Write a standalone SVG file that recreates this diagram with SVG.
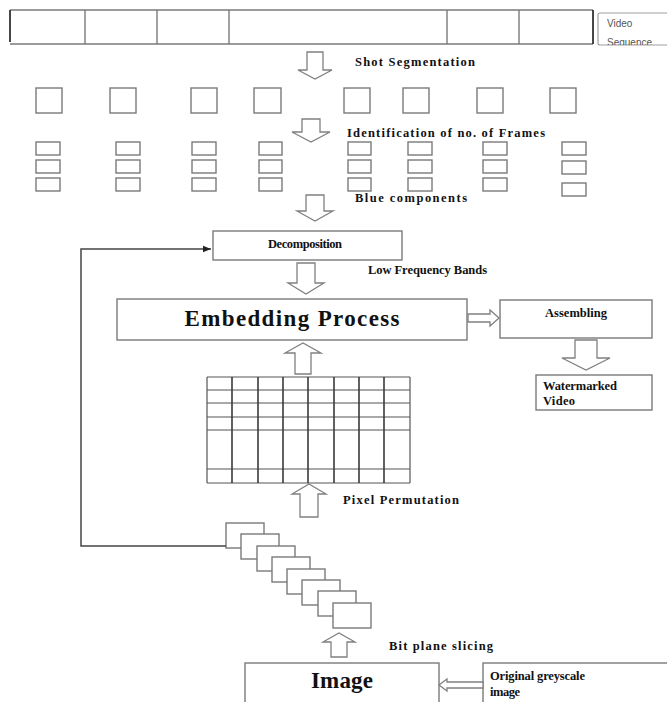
<svg xmlns="http://www.w3.org/2000/svg" width="667" height="702" viewBox="0 0 667 702">
<defs>
<style>
.b{fill:#fff;stroke:#7a7a7a;stroke-width:1.4}
.s{fill:none;stroke:#7a7a7a;stroke-width:1.4}
.a{fill:#fff;stroke:#808080;stroke-width:1.3}
.t{font-family:"Liberation Serif",serif;font-weight:bold;font-size:12.5px;fill:#111}
.big{font-family:"Liberation Serif",serif;font-weight:bold;font-size:23px;fill:#111}
.g{fill:none;stroke:#555;stroke-width:1.2}
.gv{fill:none;stroke:#3a3a3a;stroke-width:1.6}
</style>
<marker id="ah" viewBox="0 0 10 10" refX="10" refY="5" markerWidth="8" markerHeight="8" markerUnits="userSpaceOnUse" orient="auto"><path d="M0,1 L10,5 L0,9 Z" fill="#222"/></marker>
<clipPath id="vc"><rect x="598" y="13" width="69" height="32"/></clipPath>
</defs>
<rect width="667" height="702" fill="#fff"/>

<g id="video-strip">
<line class="s" x1="10" y1="10" x2="593" y2="10"/>
<line class="s" x1="10" y1="44" x2="593" y2="44"/>
<line x1="10" y1="10" x2="10" y2="42" stroke="#333" stroke-width="1.8"/>
<line x1="593" y1="10" x2="593" y2="44" stroke="#333" stroke-width="1.8"/>
<line class="s" x1="85" y1="10" x2="85" y2="44"/>
<line class="s" x1="157" y1="10" x2="157" y2="44"/>
<line class="s" x1="229" y1="10" x2="229" y2="44"/>
<line class="s" x1="447" y1="10" x2="447" y2="44"/>
<line class="s" x1="519" y1="10" x2="519" y2="44"/>
</g>

<g id="video-sequence">
<rect x="598" y="13" width="75" height="32" rx="2" fill="#fff" stroke="#a0a0a0" stroke-width="1.2"/>
<g clip-path="url(#vc)" font-family="'Liberation Sans',sans-serif" font-size="10" fill="#555">
<text x="607" y="27">Video</text>
<text x="607" y="46">Sequence</text>
</g>
</g>

<g id="shots">
<rect class="b" x="36" y="88" width="26" height="25"/>
<rect class="b" x="110" y="88" width="26" height="25"/>
<rect class="b" x="191" y="88" width="26" height="25"/>
<rect class="b" x="254" y="88" width="27" height="25"/>
<rect class="b" x="344" y="88" width="26" height="25"/>
<rect class="b" x="403" y="88" width="26" height="25"/>
<rect class="b" x="477" y="88" width="26" height="25"/>
<rect class="b" x="550" y="88" width="26" height="25"/>
</g>

<g id="frames">
<rect class="b" x="36" y="142" width="24" height="13"/><rect class="b" x="36" y="160" width="24" height="13"/><rect class="b" x="36" y="178" width="24" height="13"/>
<rect class="b" x="116" y="142" width="24" height="13"/><rect class="b" x="116" y="160" width="24" height="13"/><rect class="b" x="116" y="178" width="24" height="13"/>
<rect class="b" x="192" y="142" width="24" height="13"/><rect class="b" x="192" y="160" width="24" height="13"/><rect class="b" x="192" y="178" width="24" height="13"/>
<rect class="b" x="259" y="142" width="23" height="13"/><rect class="b" x="259" y="160" width="23" height="13"/><rect class="b" x="259" y="178" width="23" height="13"/>
<rect class="b" x="348" y="142" width="23" height="13"/><rect class="b" x="348" y="160" width="23" height="13"/><rect class="b" x="348" y="178" width="23" height="13"/>
<rect class="b" x="408" y="142" width="24" height="13"/><rect class="b" x="408" y="160" width="24" height="13"/><rect class="b" x="408" y="178" width="24" height="13"/>
<rect class="b" x="483" y="142" width="24" height="13"/><rect class="b" x="483" y="160" width="24" height="13"/><rect class="b" x="483" y="178" width="24" height="13"/>
<rect class="b" x="562" y="142" width="24" height="13"/><rect class="b" x="562" y="161" width="24" height="13"/><rect class="b" x="562" y="183" width="24" height="13"/>
</g>

<g id="decomposition">
<rect class="b" x="213" y="231" width="189" height="29"/>
<text class="t" x="305" y="248" text-anchor="middle" font-size="10" textLength="74" lengthAdjust="spacing">Decomposition</text>
</g>

<g id="embedding">
<rect class="b" x="117" y="299" width="350" height="41"/>
<text class="big" x="292" y="326" text-anchor="middle" textLength="215" lengthAdjust="spacing">Embedding Process</text>
</g>

<g id="assembling">
<rect class="b" x="500" y="300" width="152" height="38"/>
<text class="t" x="576" y="317" text-anchor="middle" font-size="11.5" textLength="62" lengthAdjust="spacing">Assembling</text>
</g>

<g id="watermarked">
<rect class="b" x="536" y="375" width="116" height="35"/>
<text class="t" x="543" y="390" font-size="11.5" textLength="74" lengthAdjust="spacing">Watermarked</text>
<text class="t" x="543" y="405" font-size="11.5" textLength="32" lengthAdjust="spacing">Video</text>
</g>

<g id="grid">
<rect x="207" y="377" width="203" height="106" fill="#fff"/>
<line class="g" x1="207" y1="377" x2="410" y2="377"/>
<line class="g" x1="207" y1="390" x2="410" y2="390"/>
<line class="g" x1="207" y1="403" x2="410" y2="403"/>
<line class="g" x1="207" y1="417" x2="410" y2="417"/>
<line class="g" x1="207" y1="430" x2="410" y2="430"/>
<line class="g" x1="207" y1="469" x2="410" y2="469"/>
<line class="g" x1="207" y1="483" x2="410" y2="483"/>
<line class="g" x1="207" y1="377" x2="207" y2="483"/>
<line class="gv" x1="232" y1="377" x2="232" y2="483"/>
<line class="gv" x1="258" y1="377" x2="258" y2="483"/>
<line class="gv" x1="283" y1="377" x2="283" y2="483"/>
<line class="gv" x1="308" y1="377" x2="308" y2="483"/>
<line class="gv" x1="334" y1="377" x2="334" y2="483"/>
<line class="gv" x1="359" y1="377" x2="359" y2="483"/>
<line class="gv" x1="384" y1="377" x2="384" y2="483"/>
<line class="g" x1="410" y1="377" x2="410" y2="483"/>
</g>

<g id="bit-planes">
<rect class="b" x="226" y="523" width="38" height="25"/>
<rect class="b" x="241" y="534" width="38" height="25"/>
<rect class="b" x="257" y="546" width="38" height="25"/>
<rect class="b" x="272" y="557" width="38" height="25"/>
<rect class="b" x="287" y="569" width="38" height="25"/>
<rect class="b" x="302" y="580" width="38" height="25"/>
<rect class="b" x="318" y="591" width="38" height="25"/>
<rect class="b" x="333" y="603" width="38" height="25"/>
</g>

<g id="image">
<rect class="b" x="245" y="663" width="194" height="45"/>
<text class="big" x="342" y="688" text-anchor="middle" font-size="22" textLength="62" lengthAdjust="spacing">Image</text>
</g>

<g id="original">
<rect class="b" x="483" y="663" width="190" height="45"/>
<text class="t" x="490" y="680" font-size="11.5" textLength="95" lengthAdjust="spacing">Original greyscale</text>
<text class="t" x="490" y="696" font-size="11.5" textLength="30" lengthAdjust="spacing">image</text>
</g>

<g id="connectors">
<polygon class="a" points="307,52 323,52 323,70 332,70 315,79 298,70 307,70"/>
<polygon class="a" points="302,119 320,119 320,132 330,132 311,142 292,132 302,132"/>
<polygon class="a" points="306,195 324,195 324,211 333,211 315,221 297,211 306,211"/>
<polygon class="a" points="297,263 315,263 315,283 324,283 306,294 288,283 297,283"/>
<polygon class="a" points="575,340 597,340 597,358 610,358 586,370 562,358 575,358"/>
<polygon class="a" points="295,374 295,353 285,353 303,343 321,353 311,353 311,374"/>
<polygon class="a" points="300,517 300,494 292,494 309,484 326,494 318,494 318,517"/>
<polygon class="a" points="331,657 331,642 323,642 339,633 355,642 347,642 347,657"/>
<polygon class="a" points="468,314 490,314 490,310 499,318 490,326 490,322 468,322"/>
<polygon class="a" points="483,682 447,682 447,679 439,685 447,691 447,688 483,688"/>
<polyline points="226,546 81,546 81,249 211,249" fill="none" stroke="#444" stroke-width="1.5" marker-end="url(#ah)"/>
</g>

<g id="labels">
<text class="t" x="355" y="66" textLength="120" lengthAdjust="spacing">Shot Segmentation</text>
<text class="t" x="347" y="137" textLength="198" lengthAdjust="spacing">Identification of no. of Frames</text>
<text class="t" x="355" y="202" textLength="112" lengthAdjust="spacing">Blue components</text>
<text class="t" x="368" y="274" font-size="11.5" textLength="119" lengthAdjust="spacing">Low Frequency Bands</text>
<text class="t" x="343" y="504" textLength="116" lengthAdjust="spacing">Pixel Permutation</text>
<text class="t" x="389" y="650" textLength="104" lengthAdjust="spacing">Bit plane slicing</text>
</g>
</svg>
